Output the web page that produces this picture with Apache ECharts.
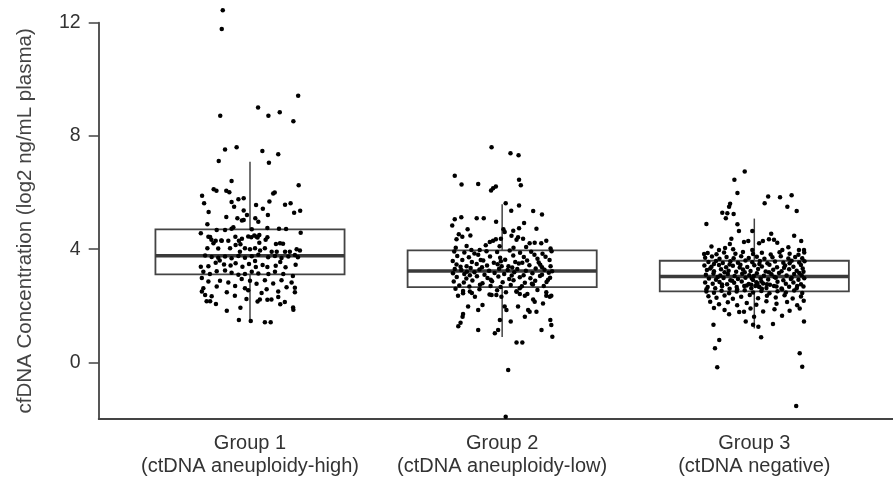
<!DOCTYPE html>
<html>
<head>
<meta charset="utf-8">
<script src="https://cdn.jsdelivr.net/npm/echarts@6/dist/echarts.min.js"></script>
<style>
  html, body { margin: 0; padding: 0; background: #fff; }
  #chart { width: 893px; height: 487px; }
</style>
</head>
<body>
<div id="chart"></div>
<script>
// groups along x
var groupNames = ['Group 1\n(ctDNA aneuploidy-high)', 'Group 2\n(ctDNA aneuploidy-low)', 'Group 3\n(ctDNA negative)'];
var groupPos = [1, 2, 3];

// box stats per group: [lower whisker, Q1, median, Q3, upper whisker]
var boxLow = [1.42, 0.90, 1.20];
var boxQ1 = [3.11, 2.66, 2.51];
var boxMed = [3.77, 3.23, 3.03];
var boxQ3 = [4.70, 3.96, 3.59];
var boxHigh = [7.09, 5.59, 5.08];

var yTicks = [0, 4, 8, 12];

// jittered points, [offset from group centre, value]
var g1Points = [
  [-0.108,12.44],[-0.112,11.78],[0.191,9.42],[0.032,9.0],[-0.118,8.71],[0.073,8.71],[0.118,8.84],[0.172,8.52],
  [-0.099,7.52],[-0.053,7.60],[0.049,7.47],[0.112,7.35],[-0.124,7.11],[0.075,7.05],
  [-0.073,6.41],[0.193,6.26],[-0.144,6.12],[-0.133,6.06],[-0.094,6.06],[-0.082,6.01],[-0.190,5.89],[0.092,5.97],[0.098,6.0],
  [-0.182,5.62],[-0.073,5.67],[-0.046,5.76],[-0.025,5.80],[0.077,5.68],[0.139,5.57],[0.161,5.62],[-0.063,5.50],[0.024,5.56],[0.051,5.43],
  [-0.164,5.31],[-0.025,5.37],[0.199,5.36],[0.175,5.29],[-0.094,5.14],[-0.050,5.09],[-0.032,5.01],[-0.025,5.03],[0.021,5.09],[0.033,4.97],[0.071,5.21],[-0.012,5.21],
  [-0.169,4.88],[0.069,4.75],[0.115,4.72],[0.143,4.71],[-0.132,4.68],[-0.099,4.68],[-0.073,4.72],[-0.066,4.77],[0.007,4.70],[-0.195,4.56],[0.201,4.58],
  [-0.158,4.43],[-0.153,4.33],[-0.058,4.44],[-0.032,4.37],[-0.007,4.45],[0.005,4.42],[0.017,4.48],[0.026,4.44],[0.037,4.50],[0.030,4.41],[0.069,4.42],[0.062,4.33],
  [0.103,4.18],[0.119,4.21],[0.131,4.19],[-0.114,4.31],[-0.086,4.30],[-0.145,4.21],[-0.038,4.17],[0.037,4.23],[0.185,4.00],[-0.169,4.03],[-0.126,4.02],
  [-0.136,4.30],[-0.112,4.30],[-0.165,4.44],[-0.044,4.30],
  [-0.079,4.03],[-0.057,4.15],[-0.040,3.91],[-0.020,4.03],[0.0,4.0],[0.020,4.03],[0.040,3.95],[0.059,4.03],[0.086,3.91],[0.106,3.91],[0.139,3.91],[0.158,3.91],[0.198,3.95],
  [-0.178,3.78],[-0.152,3.72],[-0.126,3.70],[-0.099,3.74],[-0.073,3.68],[-0.046,3.76],[-0.020,3.70],[0.007,3.75],[0.033,3.80],[0.072,3.71],[0.099,3.76],[0.125,3.69],[0.152,3.74],[0.178,3.79],[0.190,3.71],
  [-0.195,3.38],[-0.165,3.40],[-0.136,3.52],[-0.103,3.46],[-0.077,3.42],[-0.057,3.50],[-0.030,3.38],[-0.004,3.48],[0.023,3.37],[0.050,3.44],[0.069,3.37],[0.102,3.41],[0.141,3.36],[0.181,3.45],[0.120,3.55],[-0.120,3.60],[0.02,3.58],
  [-0.185,3.20],[-0.159,3.12],[-0.132,3.22],[-0.099,3.25],[-0.073,3.17],[-0.046,3.10],[-0.020,3.12],[0.007,3.20],[0.033,3.14],[0.073,3.12],[0.099,3.20],[0.132,3.12],[0.170,3.05],
  [-0.191,2.98],[-0.165,2.86],[-0.119,2.88],[-0.086,2.82],[-0.033,2.95],[0.0,2.88],[0.026,2.78],[0.059,2.90],[0.092,2.79],[0.125,2.90],[0.165,2.82],
  [-0.185,2.62],[-0.132,2.68],[-0.059,2.70],[-0.020,2.62],[0.066,2.58],[0.145,2.65],[0.178,2.64],[-0.191,2.50],[-0.092,2.48],[-0.007,2.55],[0.046,2.45],[0.112,2.50],[0.178,2.48],
  [-0.178,2.38],[-0.152,2.34],[-0.172,2.16],[-0.158,2.16],[-0.135,2.06],[-0.014,2.24],[0.039,2.22],[0.069,2.21],[0.085,2.22],[0.112,2.31],[0.030,2.15],[0.138,2.13],[0.171,1.94],
  [-0.092,1.82],[-0.038,1.93],[0.172,1.86],[-0.044,1.50],[0.003,1.46],[0.059,1.42],[0.082,1.42],[-0.060,2.35],[0.120,2.05]
];

var g2Points = [
  [-0.042,7.60],[0.033,7.39],[0.065,7.32],[-0.188,6.59],[-0.161,6.28],[-0.095,6.30],[-0.044,6.07],[-0.036,6.15],[-0.025,6.21],[0.067,6.45],[0.074,6.26],
  [0.014,5.62],[0.036,5.36],[0.067,5.54],[0.123,5.35],[0.158,5.22],[-0.198,4.84],[-0.188,5.06],[-0.162,5.13],[-0.101,5.09],[-0.073,5.09],[-0.024,4.97],[0.087,4.92],[0.067,4.74],[0.044,4.65],[0.136,4.72],
  [-0.172,4.53],[-0.158,4.44],[-0.137,4.70],[-0.126,4.48],[-0.181,4.35],[-0.025,4.35],[-0.005,4.37],[0.005,4.70],[0.010,4.61],[0.037,4.47],[0.057,4.33],[0.063,4.42],[0.083,4.37],[0.109,4.21],[0.129,4.23],[0.155,4.21],[0.175,4.30],
  [-0.065,4.14],[-0.049,4.25],[-0.036,4.30],[-0.141,4.11],[-0.122,3.97],[-0.089,3.97],[-0.184,4.05],[-0.010,4.10],[0.045,4.05],[0.095,4.08],[0.192,4.02],
  [-0.190,3.92],[-0.150,3.88],[-0.110,3.85],[-0.062,3.93],[-0.020,3.90],[0.030,3.95],[0.071,3.87],[0.115,3.91],[0.160,3.84],[0.196,3.93],
  [-0.178,3.76],[-0.132,3.71],[-0.095,3.80],[-0.048,3.74],[-0.008,3.70],[0.044,3.78],[0.086,3.72],[0.128,3.80],[0.172,3.73],[0.140,3.66],
  [-0.196,3.58],[-0.158,3.62],[-0.120,3.55],[-0.075,3.60],[-0.033,3.52],[0.012,3.63],[0.052,3.55],[0.099,3.60],[0.145,3.53],[0.188,3.62],[-0.005,3.57],
  [-0.181,3.46],[-0.141,3.40],[-0.101,3.48],[-0.060,3.42],[-0.018,3.47],[0.025,3.40],[0.066,3.49],[0.108,3.43],[0.151,3.45],[0.192,3.40],[-0.080,3.36],
  [-0.188,3.30],[-0.162,3.26],[-0.125,3.33],[-0.090,3.28],[-0.052,3.24],[-0.012,3.31],[0.022,3.26],[0.060,3.30],[0.094,3.24],[0.133,3.32],[0.168,3.27],[0.198,3.22],[0.040,3.35],[-0.140,3.20],
  [-0.195,3.15],[-0.150,3.12],[-0.110,3.18],[-0.070,3.10],[-0.030,3.16],[0.008,3.12],[0.048,3.18],[0.085,3.08],[0.120,3.15],[0.158,3.10],[0.185,3.17],
  [-0.180,3.02],[-0.142,2.96],[-0.100,3.04],[-0.058,2.98],[-0.015,3.03],[0.028,2.95],[0.070,3.01],[0.112,2.97],[0.150,3.05],[0.190,2.99],
  [-0.192,2.86],[-0.152,2.82],[-0.118,2.89],[-0.078,2.80],[-0.040,2.87],[0.002,2.83],[0.045,2.90],[0.090,2.81],[0.131,2.88],[0.176,2.84],
  [-0.170,2.72],[-0.130,2.68],[-0.088,2.74],[-0.046,2.70],[-0.006,2.66],[0.034,2.73],[0.078,2.69],[0.122,2.75],[0.165,2.70],
  [-0.165,3.38],[-0.128,3.08],[-0.085,3.62],[-0.045,2.92],[-0.002,3.40],[0.038,3.07],[0.080,3.52],[0.118,2.78],[0.158,3.36],[0.182,2.92],
  [-0.185,2.60],[-0.155,2.52],[-0.120,2.45],[-0.090,2.58],[-0.050,2.40],[-0.020,2.55],[0.015,2.48],[0.057,2.50],[0.070,2.62],[0.100,2.42],[0.140,2.56],[0.175,2.48],[0.195,2.35],[-0.175,2.35],
  [-0.155,2.44],[-0.128,2.50],[-0.108,2.32],[-0.078,2.03],[-0.095,1.85],[-0.135,1.97],[-0.155,1.71],[-0.157,1.61],[-0.165,1.40],[-0.174,1.28],[-0.095,1.14],
  [-0.042,2.38],[-0.023,2.38],[-0.003,2.32],[0.010,1.97],[0.017,1.85],[-0.009,1.50],[-0.016,1.14],[-0.029,1.03],[0.034,1.44],
  [0.057,2.50],[0.070,2.42],[0.090,2.35],[0.063,1.97],[0.103,1.85],[0.109,1.79],[0.129,2.14],[0.136,1.79],[0.090,1.61],[0.123,2.22],[0.162,2.08],[0.175,2.35],[0.189,2.32],
  [0.191,1.50],[0.195,1.32],[0.156,1.14],[0.199,0.91],[0.057,0.70],[0.080,0.70],[0.024,-0.27],[0.014,-1.92]
];

var g3Points = [
  [-0.038,6.74],[-0.079,6.45],[-0.067,5.98],[-0.096,5.60],[-0.100,5.50],[-0.127,5.29],[-0.107,5.27],[-0.082,5.24],[-0.113,5.09],[-0.190,4.89],[-0.067,4.88],[-0.061,4.64],
  [0.041,5.62],[0.055,5.86],[0.102,5.83],[0.148,5.90],[0.131,5.50],[0.168,5.35],[-0.008,4.64],
  [0.158,4.47],[0.186,4.29],[0.067,4.54],[0.078,4.33],[0.091,4.23],[0.058,4.35],[0.034,4.29],[0.019,4.21],[-0.024,4.29],[-0.041,4.25],[-0.091,4.37],[-0.097,4.18],[-0.084,4.0],
  [-0.170,4.09],[-0.116,4.04],[-0.140,3.97],[-0.199,3.83],[0.135,4.07],[0.177,3.97],[0.197,3.97],[0.111,3.97],[-0.008,3.97],
  [-0.185,3.86],[-0.150,3.82],[-0.120,3.88],[-0.075,3.84],[-0.045,3.90],[-0.005,3.83],[0.030,3.87],[0.065,3.81],[0.100,3.89],[0.140,3.84],[0.175,3.80],[0.198,3.88],
  [-0.195,3.70],[-0.168,3.74],[-0.138,3.66],[-0.110,3.72],[-0.082,3.68],[-0.052,3.75],[-0.022,3.69],[0.010,3.73],[0.040,3.66],[0.072,3.71],[0.105,3.75],[0.135,3.67],[0.162,3.72],[0.190,3.68],
  [-0.182,3.55],[-0.152,3.58],[-0.125,3.51],[-0.095,3.57],[-0.065,3.52],[-0.035,3.60],[-0.008,3.54],[0.022,3.58],[0.052,3.50],[0.082,3.56],[0.115,3.52],[0.148,3.59],[0.178,3.53],[0.199,3.57],
  [-0.198,3.42],[-0.170,3.38],[-0.140,3.44],[-0.112,3.36],[-0.085,3.41],[-0.055,3.45],[-0.028,3.37],[0.000,3.43],[0.030,3.39],[0.060,3.45],[0.090,3.36],[0.122,3.42],[0.155,3.38],[0.185,3.44],
  [-0.188,3.26],[-0.160,3.22],[-0.132,3.29],[-0.102,3.24],[-0.072,3.20],[-0.045,3.28],[-0.015,3.23],[0.015,3.30],[0.045,3.21],[0.075,3.27],[0.108,3.22],[0.138,3.29],[0.168,3.24],[0.195,3.20],
  [-0.192,3.10],[-0.162,3.14],[-0.135,3.07],[-0.105,3.12],[-0.078,3.05],[-0.048,3.13],[-0.020,3.08],[0.010,3.15],[0.038,3.06],[0.068,3.11],[0.098,3.16],[0.128,3.07],[0.158,3.12],[0.188,3.08],
  [-0.180,2.96],[-0.152,2.92],[-0.122,2.98],[-0.095,2.90],[-0.065,2.95],[-0.035,2.99],[-0.005,2.91],[0.025,2.96],[0.055,2.93],[0.085,2.99],[0.115,2.90],[0.145,2.95],[0.175,2.92],[0.198,2.97],
  [-0.195,2.82],[-0.165,2.78],[-0.138,2.84],[-0.108,2.76],[-0.080,2.81],[-0.050,2.86],[-0.022,2.77],[0.008,2.83],[0.035,2.79],[0.062,2.74],[0.092,2.85],[0.125,2.78],[0.155,2.82],[0.185,2.76],
  [-0.185,2.66],[-0.155,2.62],[-0.128,2.69],[-0.098,2.60],[-0.070,2.66],[-0.040,2.70],[-0.012,2.62],[0.018,2.68],[0.048,2.63],[0.078,2.70],[0.108,2.61],[0.138,2.67],[0.168,2.62],[0.195,2.68],
  [-0.175,3.32],[-0.145,3.02],[-0.118,3.18],[-0.088,2.88],[-0.058,3.35],[-0.030,2.72],[-0.002,3.05],[0.028,2.86],[0.058,3.18],[0.088,2.68],[0.118,3.34],[0.148,2.98],[0.178,3.16],
  [-0.190,2.58],[-0.160,3.48],[-0.128,2.75],[-0.098,3.46],[-0.068,2.58],[-0.038,3.18],[-0.010,2.96],[0.020,3.48],[0.050,2.76],[0.080,3.02],[0.110,2.58],[0.140,3.50],[0.170,2.70],[0.192,3.32],
  [0.004,2.70],[0.012,2.80],[-0.012,2.74],[0.020,2.66],[0.030,2.60],
  [-0.190,2.50],[-0.160,2.46],[-0.130,2.53],[-0.100,2.44],[-0.070,2.50],[-0.038,2.55],[-0.005,2.47],[0.028,2.52],[0.060,2.44],[0.092,2.51],[0.125,2.47],[0.158,2.54],[0.190,2.45],
  [-0.182,2.34],[-0.150,2.28],[-0.118,2.36],[-0.085,2.25],[-0.052,2.32],[-0.018,2.38],[0.015,2.27],[0.050,2.35],[0.085,2.29],[0.120,2.37],[0.152,2.26],[0.185,2.33],
  [-0.175,2.14],[-0.140,2.05],[-0.105,2.12],[-0.068,2.02],[-0.030,2.10],[0.008,2.04],[0.048,2.16],[0.088,2.07],[0.130,2.13],[0.170,2.02],[0.196,2.18],
  [-0.160,1.92],[-0.118,1.85],[-0.060,1.78],[-0.015,1.90],[0.035,1.80],[0.080,1.88],[0.140,1.82],[0.180,1.90],[-0.100,1.70],[0.110,1.65],
  [-0.162,1.33],[-0.139,0.79],[-0.156,0.50],[-0.147,-0.17],[0.027,0.89],[0.074,1.36],[0.016,1.26],[-0.005,1.33],[-0.034,1.44],[-0.041,1.79],[-0.001,1.61],
  [0.180,0.32],[0.190,-0.15],[0.166,-1.54],[0.197,1.44]
];

var boxWidth = 0.75;
var fontName = '"Liberation Sans", Arial, sans-serif';

function buildPoints(){
  var all = [g1Points, g2Points, g3Points];
  var out = [];
  for(var i = 0; i < all.length; i++){
    for(var j = 0; j < all[i].length; j++){
      out.push([groupPos[i] + all[i][j][0], all[i][j][1]]);
    }
  }
  return out;
}

var boxData = [];
for(var i = 0; i < groupPos.length; i++){
  boxData.push([groupPos[i], boxLow[i], boxQ1[i], boxMed[i], boxQ3[i], boxHigh[i]]);
}

function renderBox(params, api){
  var x = api.value(0);
  var h = boxWidth / 2;
  var hi = api.coord([x, api.value(5)]);
  var top = api.coord([x, api.value(4)]);
  var bot = api.coord([x, api.value(2)]);
  var lo = api.coord([x, api.value(1)]);
  var tl = api.coord([x - h, api.value(4)]);
  var br = api.coord([x + h, api.value(2)]);
  var ml = api.coord([x - h, api.value(3)]);
  var mr = api.coord([x + h, api.value(3)]);
  var lineStyle = { stroke: '#444', lineWidth: 1.5, fill: null };
  return {
    type: 'group',
    children: [
      { type: 'line', shape: { x1: hi[0], y1: hi[1], x2: top[0], y2: top[1] }, style: lineStyle },
      { type: 'line', shape: { x1: bot[0], y1: bot[1], x2: lo[0], y2: lo[1] }, style: lineStyle },
      { type: 'rect', shape: { x: tl[0], y: tl[1], width: br[0] - tl[0], height: br[1] - tl[1] },
        style: { stroke: '#444', lineWidth: 1.8, fill: 'rgba(0,0,0,0)' } },
      { type: 'line', shape: { x1: ml[0], y1: ml[1], x2: mr[0], y2: mr[1] },
        style: { stroke: '#3a3a3a', lineWidth: 3.5 } }
    ]
  };
}

var chart = echarts.init(document.getElementById('chart'), null, { renderer: 'canvas' });

chart.setOption({
  backgroundColor: '#ffffff',
  animation: false,
  grid: { left: 98.7, right: 0, top: 22.7, bottom: 68 },
  xAxis: {
    type: 'value',
    min: 0.4,
    max: 3.55,
    splitLine: { show: false },
    axisTick: { show: false },
    axisLine: { show: true, onZero: false, lineStyle: { color: '#444', width: 1.8 } },
    axisLabel: {
      customValues: groupPos,
      formatter: function(v){ return groupNames[Math.round(v) - 1] || ''; },
      color: '#333',
      fontFamily: fontName,
      fontSize: 20,
      lineHeight: 23,
      margin: 13
    }
  },
  yAxis: {
    type: 'value',
    min: -2,
    max: 12,
    name: 'cfDNA Concentration (log2 ng/mL plasma)',
    nameLocation: 'middle',
    nameGap: 63,
    nameTextStyle: { color: '#444', fontFamily: fontName, fontSize: 20.5 },
    splitLine: { show: false },
    axisLine: { show: true, lineStyle: { color: '#444', width: 1.8 } },
    axisTick: { show: true, customValues: yTicks, length: 10, lineStyle: { color: '#444', width: 1.5 } },
    axisLabel: {
      customValues: yTicks,
      color: '#333',
      fontFamily: fontName,
      fontSize: 19.5,
      margin: 18
    }
  },
  series: [
    {
      type: 'custom',
      renderItem: renderBox,
      data: boxData,
      encode: { x: 0, y: [1, 2, 3, 4, 5] },
      z: 2
    },
    {
      type: 'scatter',
      data: buildPoints(),
      symbolSize: 4.5,
      clip: false,
      itemStyle: { color: '#000', opacity: 1 },
      z: 3
    }
  ]
});
</script>
</body>
</html>
